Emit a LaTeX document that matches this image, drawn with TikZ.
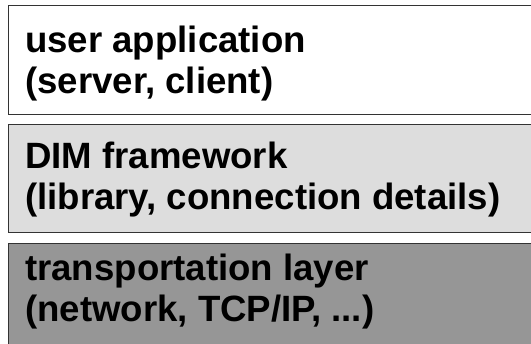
\documentclass[tikz,border=0pt]{standalone}
\usepackage{fontspec}
\setmainfont{Liberation Sans}
\definecolor{midgray}{HTML}{DDDDDD}
\definecolor{darkgray}{HTML}{969696}
\definecolor{rulegray}{HTML}{333333}
\tikzset{
  layer/.style={draw=rulegray, line width=1pt, rectangle, anchor=north west,
    minimum width=532pt, minimum height=109pt, inner sep=0pt},
  layertext/.style={anchor=base west, align=left, inner sep=0pt,
    font=\fontsize{36.6}{41.8}\selectfont\bfseries}
}
\begin{document}
\begin{tikzpicture}[x=1pt,y=1pt]
\useasboundingbox (0,0) rectangle (531,344);
\clip (0,0) rectangle (531,344);
\node[layer, fill=white] (app) at (8,339) {};
\node[layer, fill=midgray, minimum height=108pt] (dim) at (8,220) {};
\node[layer, fill=darkgray, minimum height=112pt] (tcp) at (8,101) {};
% base anchor sits on the second line
\node[layertext] (apptext) at (25,250) {user application\\(server, client)};
\node[layertext] (dimtext) at (25,134) {DIM framework\\(library, connection details)};
\node[layertext] (tcptext) at (25,22) {transportation layer\\(network, TCP/IP, ...)};
\end{tikzpicture}
\end{document}
